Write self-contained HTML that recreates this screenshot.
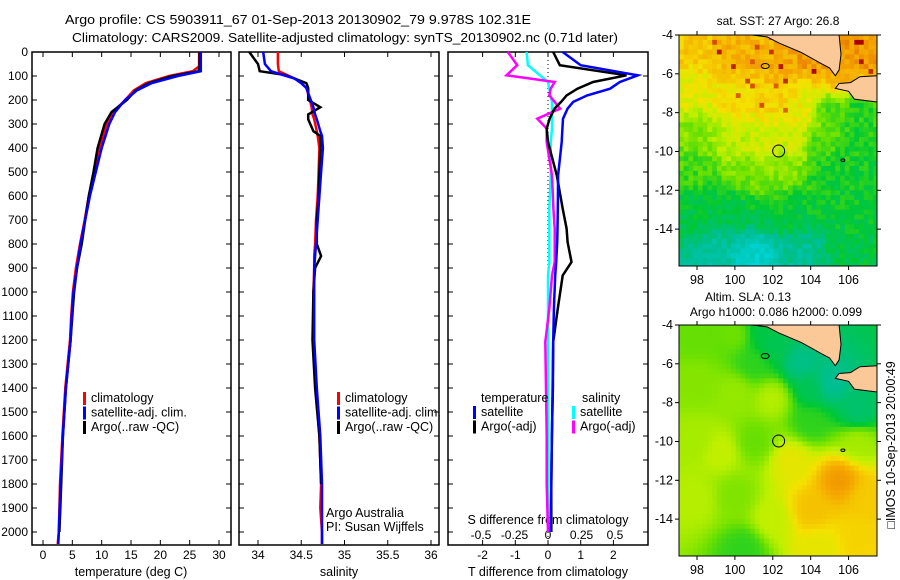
<!DOCTYPE html>
<html><head><meta charset="utf-8"><style>
html,body{margin:0;padding:0;background:#fff}
svg{display:block;font-family:"Liberation Sans",sans-serif}
</style></head><body>
<svg id="root" width="900" height="580" viewBox="0 0 900 580">
<rect width="900" height="580" fill="#fff"/>
<text x="65" y="24" font-size="13" textLength="466" lengthAdjust="spacingAndGlyphs">Argo profile: CS 5903911_67 01-Sep-2013 20130902_79 9.978S 102.31E</text>
<text x="72" y="42" font-size="13" textLength="546" lengthAdjust="spacingAndGlyphs">Climatology: CARS2009. Satellite-adjusted climatology: synTS_20130902.nc (0.71d later)</text>
<g id="g"></g>
</svg>
<script>
// ---------- data ----------
const tDepths=[0,60,80,100,130,160,200,250,300,400,500,600,700,800,900,1000,1100,1200,1400,1600,1800,2000,2050];
const tClim=[26.6,26.6,25.5,21.5,17.5,15.5,14.0,12.0,10.9,9.6,8.8,7.8,7.1,6.3,5.6,5.1,4.8,4.6,3.8,3.3,2.9,2.7,2.5];
const tSat=[26.9,26.9,26.9,23.0,18.5,16.0,14.0,12.3,11.3,10.0,9.0,8.0,7.2,6.4,5.8,5.2,4.9,4.7,3.9,3.4,3.0,2.7,2.6];
const tArgo=[26.7,26.7,26.5,22.0,18.0,15.8,14.3,11.7,10.5,9.3,8.6,7.8,7.2,6.6,5.8,5.3,5.0,4.7,3.9,3.4,3.1,2.8,null];
const sDepths=[0,50,80,95,110,130,150,200,230,260,280,330,350,400,500,600,700,800,850,900,1000,1200,1400,1600,1800,1900,2000,2050];
const sClim=[34.23,34.23,34.24,34.33,34.42,34.50,34.56,34.60,34.62,34.63,34.65,34.68,34.69,34.71,34.70,34.69,34.67,34.66,34.65,34.65,34.64,34.64,34.67,34.71,34.73,34.72,34.74,34.74];
const sSat=[34.06,34.08,34.15,34.28,34.42,34.50,34.56,34.61,34.64,34.66,34.68,34.72,34.74,34.75,34.73,34.71,34.69,34.67,34.66,34.65,34.65,34.65,34.68,34.72,34.74,34.74,34.74,34.74];
const sArgo=[33.90,34.00,34.02,34.30,34.42,34.56,34.58,34.58,34.72,34.58,34.58,34.64,34.72,34.72,34.71,34.70,34.68,34.68,34.73,34.66,34.64,34.63,34.66,34.71,34.73,null,null,null];
const dDepths=[0,55,97,125,153,181,208,236,278,319,375,514,653,736,792,875,931,1069,1208,1400,1600,1800,2000];
const dTSat=[0.45,1.0,2.75,2.2,1.9,1.2,0.77,0.6,0.46,0.44,0.42,0.31,0.3,0.29,0.28,0.25,0.22,0.18,0.16,0.14,0.12,0.10,0.08];
const dTArgo=[0.16,0.36,2.4,1.38,0.9,0.57,0.4,0.2,0.05,-0.04,0.0,0.27,0.45,0.57,0.6,0.72,0.45,0.3,0.16,0.15,0.12,0.1,0.1];
const dSArgo=[-0.30,-0.23,-0.31,0.05,0.02,0.01,0.05,0.09,-0.08,-0.01,-0.01,0.03,0.04,0.05,0.05,0.05,0.03,0.01,-0.02,-0.015,-0.01,-0.01,0.0];
const dSSat=[-0.16,-0.15,-0.06,0.0,0.01,0.02,0.03,0.03,0.03,0.03,0.02,0.02,0.01,0.01,0.01,0.01,0.0,0.0,0.0,0.0,0.0,0.0,0.0];
const depthTicks=[0,100,200,300,400,500,600,700,800,900,1000,1100,1200,1300,1400,1500,1600,1700,1800,1900,2000];
const tempTicks=[0,5,10,15,20,25,30];
const salTicks=[34,34.5,35,35.5,36];
const dTTicks=[-2,-1,0,1,2];
const dSTicks=[-0.5,-0.25,0,0.25,0.5];
const dSTickLabels=["-0.5","-0.25","0","0.25","0.5"];
const latTicks=[-4,-6,-8,-10,-12,-14];
const lonTicks=[98,100,102,104,106];
// map field anchors [lon,lat,value 0..1]
const sstLon=[97.5,100,102,104,106.5,97.5,100,102,103.5,105,106.5,98,100,101.5,103,104.5,106.5,98,100.5,102.5,105,107,98,100,103,106,99,101,103.5,106.5,105.5,107];
const sstLat=[-4.5,-5,-5.5,-5,-4.5,-7,-7.5,-7.5,-8,-8,-8,-9,-9.5,-9.5,-9.5,-9.5,-9.5,-11,-11,-11,-11,-11,-13,-13,-13,-13,-15.3,-15.5,-15.3,-15,-6,-5];
const sstVal=[0.7,0.75,0.76,0.8,0.8,0.62,0.66,0.68,0.64,0.42,0.36,0.48,0.55,0.58,0.58,0.42,0.36,0.4,0.46,0.48,0.34,0.34,0.3,0.3,0.32,0.33,0.16,0.06,0.18,0.3,0.78,0.8];
const slaLon=[98,100,101,102,103.5,105,106.5,98,100,102,104,106.5,98,99.3,101,103,105.5,107,98,100,102,104,106.5,104.5,100.5,104,101.5];
const slaLat=[-4.5,-4.5,-6,-5,-6,-7,-8.5,-7,-7.5,-7.8,-9,-10,-10,-10.5,-10,-11,-12,-13,-13,-12.8,-14,-13.5,-15,-15.5,-15.5,-7.2,-4.3];
const slaVal=[0.44,0.45,0.38,0.28,0.2,0.18,0.24,0.48,0.5,0.54,0.38,0.52,0.52,0.56,0.44,0.62,0.8,0.7,0.54,0.47,0.56,0.72,0.68,0.62,0.38,0.28,0.3];
const argoLon=102.31, argoLat=-9.978;

// ---------- scales ----------
const depthY=d=>52+d*0.24;
const tX=t=>43+t*5.867;
const sX=s=>258+(s-34)*86.5;
const dTX=v=>548+v*32.7;
const dSX=v=>548+v*134;
const NS="http://www.w3.org/2000/svg";
const G=document.getElementById('g');
function el(tag,attrs,parent){const e=document.createElementNS(NS,tag);for(const k in attrs)e.setAttribute(k,attrs[k]);(parent||G).appendChild(e);return e;}
function txt(x,y,s,anchor,size,parent){const e=el('text',{x:x,y:y,'font-size':size||12,'text-anchor':anchor||'start'},parent);e.textContent=s;return e;}

const panels=[{x0:32,x1:231},{x0:239,x1:439},{x0:448,x1:648}];
const PT=52,PB=545;
panels.forEach((p,i)=>{
  const r=el('rect',{x:p.x0,y:PT,width:p.x1-p.x0,height:PB-PT,fill:'none',stroke:'#000','stroke-width':1.5});
  
  
  depthTicks.forEach(d=>{const y=depthY(d);el('line',{x1:p.x0,x2:p.x0+5,y1:y,y2:y,stroke:'#000'});el('line',{x1:p.x1-5,x2:p.x1,y1:y,y2:y,stroke:'#000'});});
});
depthTicks.forEach(d=>{const t=txt(28,depthY(d)+4,String(d),'end',12);});

function xTicks(vals,labels,fx,p,ly,top){
  vals.forEach((v,i)=>{const x=fx(v);
    el('line',{x1:x,x2:x,y1:PB-5,y2:PB,stroke:'#000'});
    if(top)el('line',{x1:x,x2:x,y1:PT,y2:PT+5,stroke:'#000'});
    if(ly){const t=txt(x,ly,labels[i],'middle',12);}
  });
}
xTicks(tempTicks,tempTicks.map(String),tX,panels[0],559,true);
xTicks(salTicks,salTicks.map(String),sX,panels[1],559,true);
xTicks(dTTicks,dTTicks.map(String),dTX,panels[2],559,true);
dSTicks.forEach((v,i)=>{const t=txt(dSX(v),539,dSTickLabels[i],'middle',12);});
[['temperature (deg C)',131,'x-axis-title-temperature'],['salinity',339,'x-axis-title-salinity'],['T difference from climatology',548,'x-axis-title-t-diff']].forEach(a=>{const t=txt(a[1],576,a[0],'middle',12.5);});
{const t=txt(548,524,'S difference from climatology','middle',12.5);}

function line(depths,vals,fx,color,name,w){
  let pts=[];
  for(let i=0;i<depths.length;i++){if(vals[i]===null)continue;pts.push(fx(vals[i]).toFixed(1)+','+depthY(depths[i]).toFixed(1));}
  const e=el('polyline',{points:pts.join(' '),fill:'none',stroke:color,'stroke-width':w||2.5,'stroke-linejoin':'miter'});
  
  
}
el('line',{x1:548,x2:548,y1:PT,y2:PB,stroke:'#000','stroke-dasharray':'1,3','stroke-width':1});
line(tDepths,tClim,tX,'#f00','temp-climatology-line');
line(tDepths,tArgo,tX,'#000','temp-argo-line');
line(tDepths,tSat,tX,'#00f','temp-satellite-line');
line(sDepths,sClim,sX,'#f00','sal-climatology-line');
line(sDepths,sArgo,sX,'#000','sal-argo-line');
line(sDepths,sSat,sX,'#00f','sal-satellite-line');
line(dDepths,dSSat,dSX,'#0ff','s-diff-satellite-line');
line(dDepths,dSArgo,dSX,'#f0f','s-diff-argo-line');
line(dDepths,dTArgo,dTX,'#000','t-diff-argo-line');
line(dDepths,dTSat,dTX,'#00f','t-diff-satellite-line');

function legend(x,y,items){items.forEach((it,i)=>{
  const r=el('rect',{x:x,y:y+i*14.5-10,width:3,height:13,fill:it[0]});
  const t=txt(x+8,y+i*14.5,it[1],'start',12.5);
  
  });}
legend(83,402,[['#f00','climatology'],['#00f','satellite-adj. clim.'],['#000','Argo(..raw -QC)']]);
legend(337,402,[['#f00','climatology'],['#00f','satellite-adj. clim.'],['#000','Argo(..raw -QC)']]);
{const t=txt(481,402,'temperature','start',12.5);
 const u=txt(582,402,'salinity','start',12.5);}
legend(473,416,[['#00f','satellite'],['#000','Argo(-adj)']]);
legend(572,416,[['#0ff','satellite'],['#f0f','Argo(-adj)']]);
{const t=txt(326,517,'Argo Australia','start',12.5);
 const u=txt(326,531,'PI: Susan Wijffels','start',12.5);}

// ---------- maps ----------
const MX0=679,MX1=877,LON0=97.05,LON1=107.5;
const lonX=l=>MX0+(l-LON0)*(MX1-MX0)/(LON1-LON0);
const stops=[[0,[0,215,225]],[0.18,[0,190,150]],[0.33,[0,200,50]],[0.45,[110,225,0]],[0.55,[190,240,0]],[0.65,[245,225,0]],[0.78,[245,165,0]],[0.9,[220,90,0]],[1,[170,0,0]]];
function cmap(v){v=Math.max(0,Math.min(1,v));for(let i=1;i<stops.length;i++){if(v<=stops[i][0]){const a=stops[i-1],b=stops[i],f=(v-a[0])/(b[0]-a[0]);return 'rgb('+[0,1,2].map(k=>Math.round(a[1][k]+f*(b[1][k]-a[1][k]))).join(',')+')';}}return 'rgb(170,0,0)';}
function idw(lo,la,LO,LA,V){let s=0,w=0;for(let i=0;i<LO.length;i++){const d=(lo-LO[i])**2+(la-LA[i])**2+0.3;const ww=1/(d*d);s+=ww*V[i];w+=ww;}return s/w;}
function hash(i,j){let h=(i*374761393+j*668265263)>>>0;h=((h^(h>>>13))*1274126177)>>>0;return ((h^(h>>>16))&1023)/1023;}
const sumatra=[[100.9,-4],[105.5,-4],[105.6,-5],[105.5,-5.8],[105.3,-6.1],[105,-5.7],[104.6,-5.5],[103.5,-4.9],[102.3,-4.4],[101.7,-4.1]];
const java=[[105.3,-6.75],[106,-6.9],[106.3,-7.3],[107.5,-7.45],[107.5,-6.1],[106.6,-6.15],[106.1,-6.45],[105.5,-6.5]];
function drawMap(y0,y1,LO,LA,V,noise,name,cell){
  const latY=l=>y0+(-4-l)*(y1-y0)/11.9;
  const grp=el('g',{});
  
  
  const clip=el('clipPath',{id:'c'+name},grp);el('rect',{x:MX0,y:y0,width:MX1-MX0,height:y1-y0},clip);
  const cg=el('g',{'clip-path':'url(#c'+name+')'},grp);
  let i=0;
  for(let lo=LON0;lo<LON1;lo+=cell,i++){let j=0;
    for(let la=-4;la>-16;la-=cell,j++){
      let v=idw(lo+cell/2,la-cell/2,LO,LA,V);
      if(noise){v+=(hash(i,j)-0.5)*noise;if(v>0.68&&hash(i+7,j+3)>0.95)v+=0.2;}
      const x=lonX(lo),y=latY(la);
      el('rect',{x:x.toFixed(1),y:y.toFixed(1),width:(lonX(lo+cell)-x+0.6).toFixed(1),height:(latY(la-cell)-y+0.6).toFixed(1),fill:cmap(v)},cg);
    }}
  [sumatra,java].forEach(poly=>el('polygon',{points:poly.map(p=>lonX(p[0]).toFixed(1)+','+latY(p[1]).toFixed(1)).join(' '),fill:'#fbc898',stroke:'#000','stroke-width':1},cg));
  el('ellipse',{cx:lonX(101.6),cy:latY(-5.6),rx:4,ry:2.5,fill:'none',stroke:'#000'},cg);
  el('ellipse',{cx:lonX(105.7),cy:latY(-10.45),rx:2,ry:1.2,fill:'none',stroke:'#000'},cg);
  const c=el('circle',{cx:lonX(argoLon),cy:latY(argoLat),r:6,fill:'none',stroke:'#000','stroke-width':1},grp);
  
  
  el('rect',{x:MX0,y:y0,width:MX1-MX0,height:y1-y0,fill:'none',stroke:'#000'},grp);
  latTicks.forEach(l=>{const y=latY(l);el('line',{x1:MX0-4,x2:MX0,y1:y,y2:y,stroke:'#000'},grp);el('line',{x1:MX1,x2:MX1+4,y1:y,y2:y,stroke:'#000'},grp);
    const t=txt(673,y+4,String(l),'end',12.5,grp);});
  lonTicks.forEach(l=>{const x=lonX(l);el('line',{x1:x,x2:x,y1:y1,y2:y1+4,stroke:'#000'},grp);el('line',{x1:x,x2:x,y1:y0-4,y2:y0,stroke:'#000'},grp);
    const t=txt(x,y1+18,String(l),'middle',12.5,grp);});
}
drawMap(35,266,sstLon,sstLat,sstVal,0.1,'sst-map',0.25);
drawMap(325,556,slaLon,slaLat,slaVal,0,'sla-map',0.25);
{const t=txt(778,25,'sat. SST: 27 Argo: 26.8','middle',12);
 const u=txt(748,301,'Altim. SLA: 0.13','middle',12);
 const w=txt(776,316,'Argo h1000: 0.086 h2000: 0.099','middle',12);
 const z=txt(0,0,'\u25A1IMOS 10-Sep-2013 20:00:49','middle',12.5);z.setAttribute('transform','translate(895,445) rotate(-90)');}
</script>
</body></html>
